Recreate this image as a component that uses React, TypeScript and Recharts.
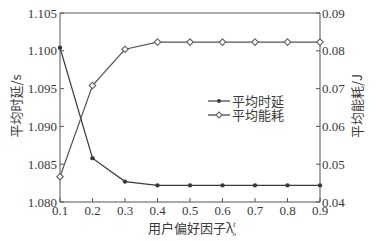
import React from 'react';
import {
  LineChart,
  Line,
  XAxis,
  YAxis,
  ReferenceLine,
} from 'recharts';

const lambdas = [0.1, 0.2, 0.3, 0.4, 0.5, 0.6, 0.7, 0.8, 0.9];
const avgDelay = [1.1004, 1.0858, 1.0827, 1.0822, 1.0822, 1.0822, 1.0822, 1.0822, 1.0822];
const avgEnergy = [0.0467, 0.0708, 0.0804, 0.0823, 0.0823, 0.0823, 0.0823, 0.0823, 0.0823];
const xTicks = [0.1, 0.2, 0.3, 0.4, 0.5, 0.6, 0.7, 0.8, 0.9];
const leftTicks = [1.08, 1.085, 1.09, 1.095, 1.1, 1.105];
const rightTicks = [0.04, 0.05, 0.06, 0.07, 0.08, 0.09];
const legendNames = ['平均时延', '平均能耗'];

const chartData = lambdas.map((l, i) => ({
  lambda: l,
  delay: avgDelay[i],
  energy: avgEnergy[i],
}));

const INK = '#3a3a3a';
const AXIS = '#555';
const SERIF = '"Liberation Serif", "Times New Roman", serif';
const CJK = '"Noto Sans CJK SC", sans-serif';

const LeftTick = (props: any) => {
  const { x, y, payload } = props;
  return (
    <g>
      <line x1={x + 4} x2={x + 8} y1={y} y2={y} stroke={AXIS} />
      <text x={x + 1} y={y + 4.5} textAnchor="end" fontFamily={SERIF} fontSize={13} fill={INK}>
        {payload.value.toFixed(3)}
      </text>
    </g>
  );
};

const RightTick = (props: any) => {
  const { x, y, payload } = props;
  return (
    <g>
      <line x1={x - 4} x2={x - 8} y1={y} y2={y} stroke={AXIS} />
      <text x={x - 2} y={y + 4.5} textAnchor="start" fontFamily={SERIF} fontSize={13} fill={INK}>
        {payload.value.toFixed(2)}
      </text>
    </g>
  );
};

const BottomTick = (props: any) => {
  const { x, y, payload } = props;
  return (
    <g>
      <line x1={x} x2={x} y1={y - 4} y2={y - 8} stroke={AXIS} />
      <text x={x} y={y + 9} textAnchor="middle" fontFamily={SERIF} fontSize={13} fill={INK}>
        {payload.value.toFixed(1)}
      </text>
    </g>
  );
};

const Diamond = (props: any) => {
  const { cx, cy } = props;
  if (cx == null || cy == null) return null;
  const r = 3.2;
  return (
    <polygon
      points={`${cx},${cy - r} ${cx + r},${cy} ${cx},${cy + r} ${cx - r},${cy}`}
      fill="#fff"
      stroke="#666"
      strokeWidth={1.2}
    />
  );
};

const Dot = (props: any) => {
  const { cx, cy } = props;
  if (cx == null || cy == null) return null;
  return <circle cx={cx} cy={cy} r={2.2} fill={INK} />;
};

const LegendBox = () => (
  <svg width={100} height={32} style={{ position: 'absolute', left: 205, top: 93 }}>
    <line x1={3} x2={25} y1={8} y2={8} stroke={INK} strokeWidth={1.2} />
    <circle cx={14} cy={8} r={2} fill={INK} />
    <text x={27} y={13} fontFamily={CJK} fontSize={13} fill={INK}>{legendNames[0]}</text>
    <line x1={3} x2={25} y1={22} y2={22} stroke={INK} strokeWidth={1.2} />
    <polygon points="14,19 17,22 14,25 11,22" fill="#fff" stroke="#666" strokeWidth={1.1} />
    <text x={27} y={27} fontFamily={CJK} fontSize={13} fill={INK}>{legendNames[1]}</text>
  </svg>
);

export default function App() {
  return (
    <div style={{ position: 'absolute', left: 0, top: 0, width: 390, height: 241, background: '#fff' }}>
      <LineChart
        width={390}
        height={241}
        data={chartData}
        margin={{ top: 13, right: 0, left: 0, bottom: 0 }}
      >
        <XAxis
          dataKey="lambda"
          type="number"
          domain={[0.1, 0.9]}
          ticks={xTicks}
          height={39}
          stroke={AXIS}
          tickLine={false}
          tickSize={0}
          tickMargin={4}
          tick={<BottomTick />}
          label={{
            content: () => (
              <text x={148} y={233} fontFamily={CJK} fontSize={13} fill={INK}>
                用户偏好因子λ
                <tspan fontFamily={SERIF} fontStyle="italic" fontSize={8} dy={-6}>t</tspan>
                <tspan fontFamily={SERIF} fontStyle="italic" fontSize={7} dx={-3} dy={9}>n</tspan>
              </text>
            ),
          }}
        />
        <YAxis
          yAxisId="left"
          domain={[1.08, 1.105]}
          ticks={leftTicks}
          width={60}
          stroke={AXIS}
          tickLine={false}
          tickSize={0}
          tickMargin={4}
          tick={<LeftTick />}
          label={{
            content: () => (
              <text
                x={21}
                y={106}
                transform="rotate(-90 21 106)"
                textAnchor="middle"
                fontFamily={CJK}
                fontSize={13}
                fill={INK}
              >
                平均时延/s
              </text>
            ),
          }}
        />
        <YAxis
          yAxisId="right"
          orientation="right"
          domain={[0.04, 0.09]}
          ticks={rightTicks}
          width={70}
          stroke={AXIS}
          tickLine={false}
          tickSize={0}
          tickMargin={4}
          tick={<RightTick />}
          label={{
            content: () => (
              <text
                x={362}
                y={106}
                transform="rotate(-90 362 106)"
                textAnchor="middle"
                fontFamily={CJK}
                fontSize={13}
                fill={INK}
              >
                平均能耗/J
              </text>
            ),
          }}
        />
        <ReferenceLine yAxisId="left" y={1.105} stroke={AXIS} />
        <Line
          yAxisId="left"
          dataKey="delay"
          stroke={INK}
          strokeWidth={1.2}
          dot={<Dot />}
          isAnimationActive={false}
        />
        <Line
          yAxisId="right"
          dataKey="energy"
          stroke="#555"
          strokeWidth={1.2}
          dot={<Diamond />}
          isAnimationActive={false}
        />
      </LineChart>
      <LegendBox />
    </div>
  );
}
